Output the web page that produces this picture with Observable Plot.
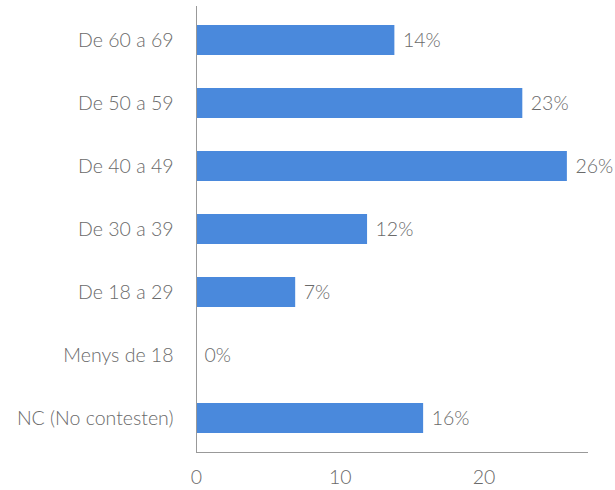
<!DOCTYPE html>
<html>
<head>
<meta charset="utf-8">
<script src="https://cdn.jsdelivr.net/npm/d3@7"></script>
<script src="https://cdn.jsdelivr.net/npm/@observablehq/plot@0.6"></script>
<style>
  body { margin: 0; background: #fff; }
  #chart svg { font-family: Lato, "Open Sans", sans-serif; }
</style>
</head>
<body>
<div id="chart"></div>
<script>
const categories = ["De 60 a 69", "De 50 a 59", "De 40 a 49", "De 30 a 39", "De 18 a 29", "Menys de 18", "NC (No contesten)"];
const values = [13.8, 22.7, 25.8, 11.9, 6.9, 0, 15.8];
const xTicks = [0, 10, 20];

const data = categories.map((c, i) => ({category: c, value: values[i], label: Math.round(values[i]) + "%"}));

const chart = Plot.plot({
  width: 615,
  height: 490,
  marginLeft: 196,
  marginRight: 28,
  marginTop: 6,
  marginBottom: 38,
  style: {fontFamily: "Lato, 'Open Sans', sans-serif", fontSize: "19.5px", fontWeight: 300, color: "#6a6a6a", background: "#fff"},
  x: {domain: [0, 27.2], ticks: xTicks, label: null},
  y: {domain: categories, paddingInner: 0.53, paddingOuter: 0.265, label: null},
  marks: [
    Plot.barX(data, {x: "value", y: "category", fill: "#4a89dc"}),
    Plot.text(data, {x: "value", y: "category", text: "label", textAnchor: "start", dx: 8, fill: "#6a6a6a", fontSize: 19.5, fontWeight: 300}),
    Plot.frame({anchor: "left", stroke: "#999"}),
    Plot.frame({anchor: "bottom", stroke: "#999"}),
    Plot.axisY({tickSize: 0, tickPadding: 23, fontSize: 19.5, fontWeight: 300, fill: "#6a6a6a", label: null}),
    Plot.axisX({ticks: xTicks, tickSize: 0, tickPadding: 18, fontSize: 19.5, fontWeight: 300, fill: "#6a6a6a", label: null})
  ]
});
document.getElementById("chart").appendChild(chart);
</script>
</body>
</html>
